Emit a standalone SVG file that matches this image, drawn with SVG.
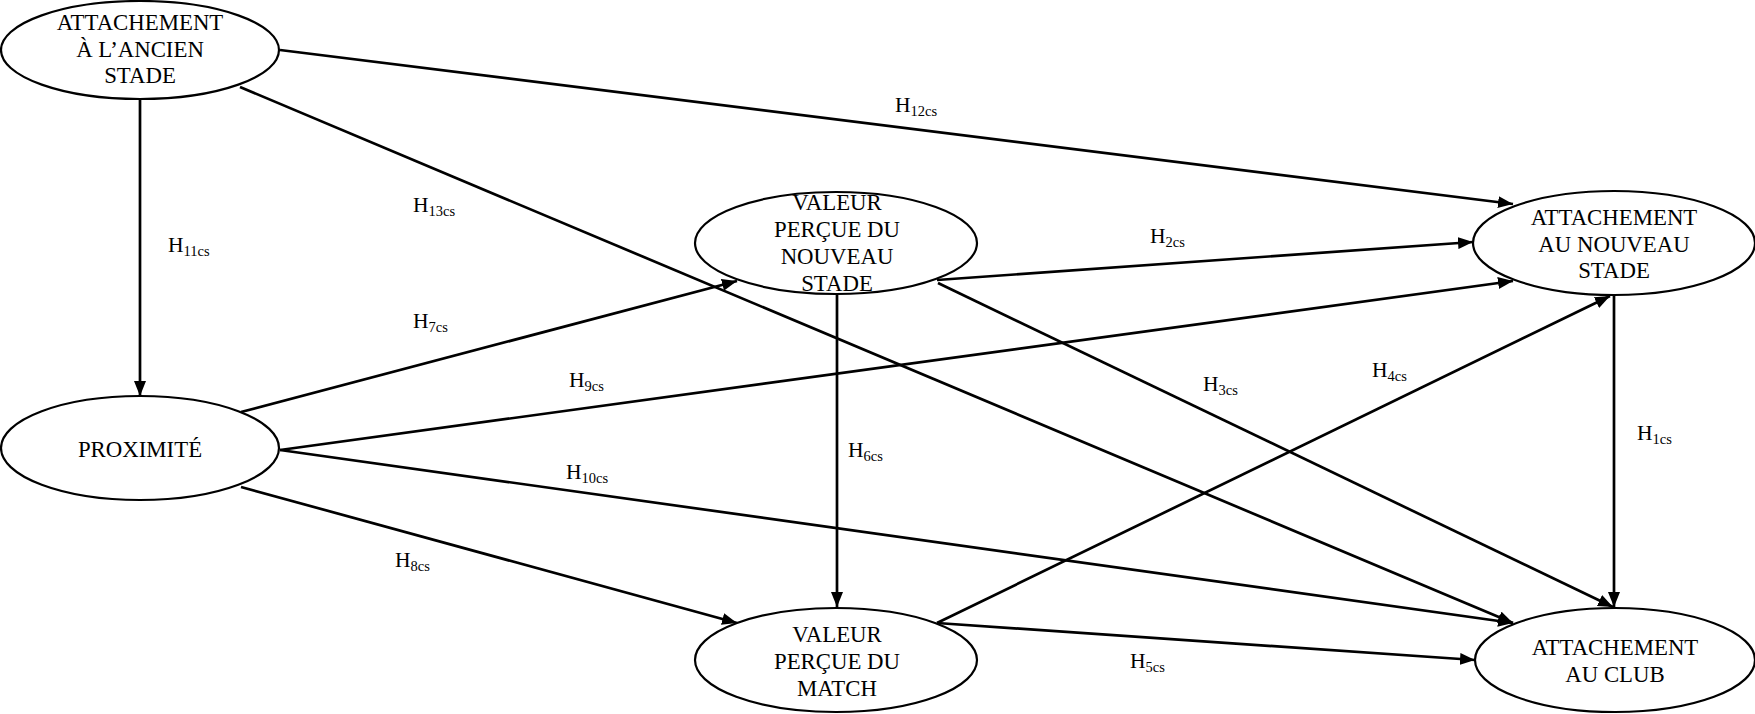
<svg xmlns="http://www.w3.org/2000/svg" width="1755" height="714" viewBox="0 0 1755 714">
<style>
.n ellipse{fill:#fff;stroke:#000;stroke-width:2.2}
.n text{font-family:"Liberation Serif","Times New Roman",serif;font-size:22.8px;text-anchor:middle;fill:#000}
.c line{stroke:#000;stroke-width:2.7;marker-end:url(#ah)}
.l text{font-family:"Liberation Serif","Times New Roman",serif;font-size:21.5px;fill:#000}
.l tspan.s{font-size:14.5px}
</style>
<defs>
<marker id="ah" markerUnits="userSpaceOnUse" markerWidth="16" markerHeight="12" refX="15" refY="6" orient="auto">
<path d="M0,0 L15,6 L0,12 z" fill="#000"/>
</marker>
</defs>
<rect width="1755" height="714" fill="#fff"/>
<g class="c" id="connectors">
<line x1="140" y1="100" x2="140" y2="396"/>
<line x1="280" y1="50" x2="1513" y2="204"/>
<line x1="240" y1="87" x2="1513" y2="623"/>
<line x1="241" y1="412" x2="737" y2="281"/>
<line x1="280" y1="450" x2="1513" y2="281"/>
<line x1="280" y1="450" x2="1513" y2="623"/>
<line x1="241" y1="487" x2="737" y2="623"/>
<line x1="937" y1="280" x2="1473" y2="242"/>
<line x1="938" y1="283" x2="1613" y2="607"/>
<line x1="837" y1="295" x2="837" y2="607"/>
<line x1="937" y1="623" x2="1610" y2="296"/>
<line x1="937" y1="623" x2="1475" y2="660"/>
<line x1="1614" y1="295" x2="1614" y2="607"/>
</g>
<g class="n" id="ancien">
<ellipse cx="140" cy="50" rx="139" ry="49"/>
<text x="140" y="30">ATTACHEMENT</text>
<text x="140" y="57">À L’ANCIEN</text>
<text x="140" y="83">STADE</text>
</g>
<g class="n" id="proximite">
<ellipse cx="140" cy="448" rx="139" ry="52"/>
<text x="140" y="457">PROXIMITÉ</text>
</g>
<g class="n" id="vpns">
<ellipse cx="836" cy="243" rx="141" ry="51"/>
<text x="837" y="210">VALEUR</text>
<text x="837" y="237">PERÇUE DU</text>
<text x="837" y="264">NOUVEAU</text>
<text x="837" y="291">STADE</text>
</g>
<g class="n" id="ans">
<ellipse cx="1614" cy="243" rx="141" ry="52"/>
<text x="1614" y="225">ATTACHEMENT</text>
<text x="1614" y="252">AU NOUVEAU</text>
<text x="1614" y="278">STADE</text>
</g>
<g class="n" id="vpm">
<ellipse cx="836" cy="660" rx="141" ry="52"/>
<text x="837" y="642">VALEUR</text>
<text x="837" y="669">PERÇUE DU</text>
<text x="837" y="696">MATCH</text>
</g>
<g class="n" id="club">
<ellipse cx="1615" cy="660" rx="140" ry="52"/>
<text x="1615" y="655">ATTACHEMENT</text>
<text x="1615" y="682">AU CLUB</text>
</g>
<g class="l" id="labels">
<text x="168" y="252">H<tspan class="s" dy="4">11cs</tspan></text>
<text x="895" y="112">H<tspan class="s" dy="4">12cs</tspan></text>
<text x="413" y="212">H<tspan class="s" dy="4">13cs</tspan></text>
<text x="413" y="328">H<tspan class="s" dy="4">7cs</tspan></text>
<text x="1150" y="243">H<tspan class="s" dy="4">2cs</tspan></text>
<text x="569" y="387">H<tspan class="s" dy="4">9cs</tspan></text>
<text x="566" y="479">H<tspan class="s" dy="4">10cs</tspan></text>
<text x="848" y="457">H<tspan class="s" dy="4">6cs</tspan></text>
<text x="395" y="567">H<tspan class="s" dy="4">8cs</tspan></text>
<text x="1203" y="391">H<tspan class="s" dy="4">3cs</tspan></text>
<text x="1372" y="377">H<tspan class="s" dy="4">4cs</tspan></text>
<text x="1637" y="440">H<tspan class="s" dy="4">1cs</tspan></text>
<text x="1130" y="668">H<tspan class="s" dy="4">5cs</tspan></text>
</g>
</svg>
